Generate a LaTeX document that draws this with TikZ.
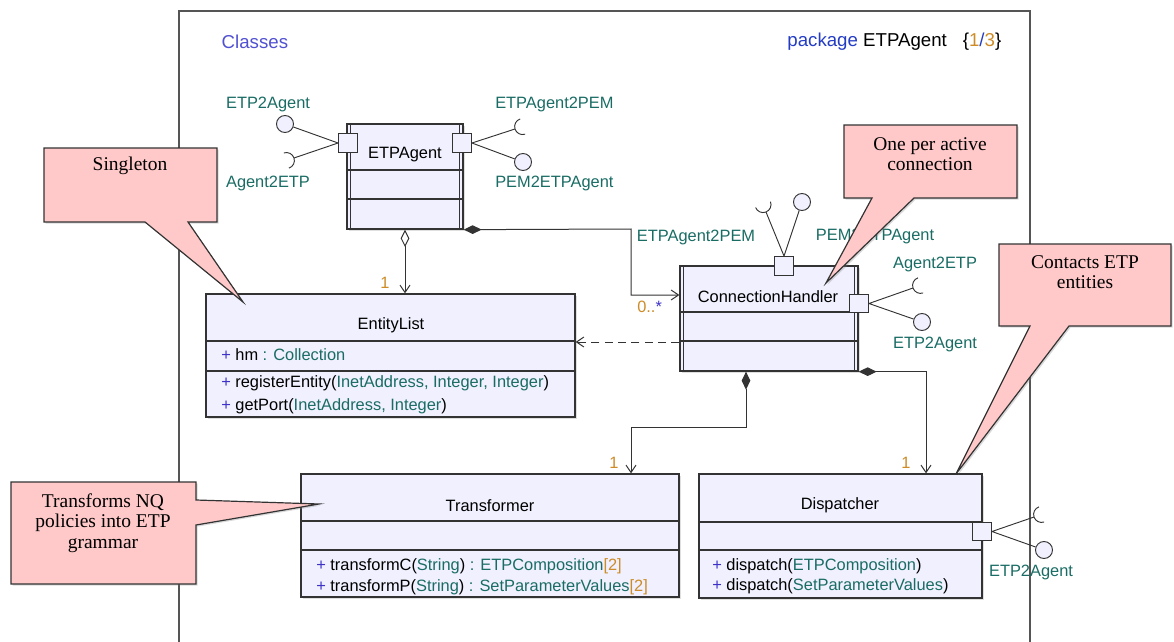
\documentclass[tikz,border=0pt]{standalone}
\usepackage{fontspec}
\setmainfont{Liberation Sans}
\newfontfamily\notefont{Liberation Serif}
\usetikzlibrary{arrows.meta,shadows}

\definecolor{clsfill}{RGB}{240,240,254}
\definecolor{notefill}{RGB}{255,201,201}
\definecolor{linec}{RGB}{51,51,51}
\definecolor{framec}{RGB}{85,85,85}
\definecolor{typec}{RGB}{25,108,100}
\definecolor{visc}{RGB}{60,50,200}
\definecolor{multc}{RGB}{205,140,40}
\definecolor{classesc}{RGB}{80,80,210}
\definecolor{pkgc}{RGB}{35,60,195}

\newcommand\vis{\textcolor{visc}{+}}
\newcommand\ty[1]{\textcolor{typec}{#1}}
\newcommand\mult[1]{\textcolor{multc}{#1}}
% required interface: half circle with apex #1, facing direction #2
\newcommand\socket[2]{\draw[iface] (#1) arc[start angle=#2,end angle=#2+90,radius=6pt]
  (#1) arc[start angle=#2,end angle=#2-90,radius=6pt];}

\tikzset{
  classbox/.style={draw=linec,fill=clsfill,line width=1pt,inner sep=0pt,
    drop shadow={shadow xshift=1.2pt,shadow yshift=-1.2pt,opacity=0.25}},
  cline/.style={draw=linec,line width=1pt},
  portbox/.style={draw=linec,fill=clsfill,line width=0.9pt,minimum size=14pt,inner sep=0pt},
  lolli/.style={circle,draw=linec,fill=clsfill,line width=0.7pt,minimum size=12.75pt,inner sep=0pt},
  iface/.style={draw=linec,line width=0.7pt},
  clsname/.style={font=\fontsize{12.3}{14}\selectfont,inner sep=0pt},
  memb/.style={anchor=west,font=\fontsize{12.3}{14}\selectfont,inner sep=0pt},
  mlabel/.style={text=multc,font=\fontsize{12.3}{14}\selectfont,inner sep=0pt},
  notebox/.style={draw=linec,fill=notefill,line width=0.9pt,
    drop shadow={shadow xshift=1.2pt,shadow yshift=-1.2pt,opacity=0.3}},
  notetext/.style={align=center,font=\notefont\fontsize{14.6}{15.5}\selectfont,inner sep=0pt},
  composition/.style={draw=linec,line width=0.75pt,
    {Diamond[length=13.5pt,width=6.5pt]}-{Straight Barb[length=5.5pt,width=7.5pt]}},
  aggregation/.style={draw=linec,line width=0.75pt,
    {Diamond[fill=white,length=13pt,width=6.5pt]}-{Straight Barb[length=5.5pt,width=7.5pt]}},
  dependency/.style={draw=linec,line width=0.75pt,dash pattern=on 6pt off 4pt,
    -{Straight Barb[length=5.5pt,width=7.5pt]}}
}

\begin{document}
\begin{tikzpicture}[x=0.75pt,y=-0.75pt]
\useasboundingbox (0,0) rectangle (1174,642);

% package frame
\draw[framec,line width=1.5pt] (179,642) -- (179,11) -- (1030,11) -- (1030,642);
\node[anchor=west,text=classesc,font=\fontsize{14}{16}\selectfont] (title) at (217,42) {Classes};
\node[anchor=east,font=\fontsize{14}{16}\selectfont] (pkg) at (1006,42)
  {\textcolor{pkgc}{package} ETPAgent\hspace{12pt}\{\mult{1}\textcolor{pkgc}{/}\mult{3}\}};

% ETPAgent
\node[classbox,minimum width=116*0.75pt,minimum height=105*0.75pt] (etpagent) at (405,176.5) {};
\node[clsname] (etpagent-n) at (405,155) {ETPAgent};
\draw[cline] (etpagent.west |- 0,170) -- (etpagent.east |- 0,170)
  (etpagent.west |- 0,199) -- (etpagent.east |- 0,199)
  ([xshift=3pt]etpagent.north west) -- ([xshift=3pt]etpagent.south west)
  ([xshift=-3pt]etpagent.north east) -- ([xshift=-3pt]etpagent.south east);
\node[portbox] (etpagent-pl) at (348,143) {};
\node[portbox] (etpagent-pr) at (462,143) {};
\node[lolli] (etp2agent-a) at (285,124) {};
\node[lolli] (pem2etpagent-a) at (523,162) {};
\coordinate (agent2etp-a) at (294,158);
\coordinate (etpagent2pem-a) at (515,129);
\draw[iface] (etpagent-pl.west) -- (etp2agent-a) (etpagent-pl.west) -- (agent2etp-a)
  (etpagent-pr.east) -- (etpagent2pem-a) (etpagent-pr.east) -- (pem2etpagent-a);
\socket{agent2etp-a}{18.4}
\socket{etpagent2pem-a}{197.6}

% EntityList
\node[classbox,minimum width=369*0.75pt,minimum height=123*0.75pt] (entitylist) at (390.5,355.5) {};
\node[clsname] (entitylist-n) at (391,325) {EntityList};
\draw[cline] (entitylist.west |- 0,341) -- (entitylist.east |- 0,341)
  (entitylist.west |- 0,371) -- (entitylist.east |- 0,371);
\node[memb] (entitylist-a) at (221,355) {\vis{} hm \ty{: Collection}};
\node[memb] (entitylist-m1) at (221,383) {\vis{} registerEntity(\ty{InetAddress, Integer, Integer})};
\node[memb] (entitylist-m2) at (221,406) {\vis{} getPort(\ty{InetAddress, Integer})};

% ConnectionHandler
\node[classbox,minimum width=178*0.75pt,minimum height=105*0.75pt] (chandler) at (769,318.5) {};
\node[clsname] (chandler-n) at (768,297) {ConnectionHandler};
\draw[cline] (chandler.west |- 0,312) -- (chandler.east |- 0,312)
  (chandler.west |- 0,341) -- (chandler.east |- 0,341)
  ([xshift=3pt]chandler.north west) -- ([xshift=3pt]chandler.south west)
  ([xshift=-3pt]chandler.north east) -- ([xshift=-3pt]chandler.south east);
\node[portbox] (chandler-pt) at (784,266) {};
\node[portbox] (chandler-pr) at (859,303.5) {};
\node[lolli] (pem2etpagent-c) at (802,202) {};
\node[lolli] (etp2agent-c) at (922,322) {};
\coordinate (etpagent2pem-c) at (766,212);
\coordinate (agent2etp-c) at (913,288);
\draw[iface] (chandler-pt.north) -- (etpagent2pem-c) (chandler-pt.north) -- (pem2etpagent-c)
  (chandler-pr.east) -- (agent2etp-c) (chandler-pr.east) -- (etp2agent-c);
\socket{etpagent2pem-c}{291.8}
\socket{agent2etp-c}{199}

% Transformer
\node[classbox,minimum width=378*0.75pt,minimum height=123*0.75pt] (transformer) at (490,535.5) {};
\node[clsname] (transformer-n) at (490,506) {Transformer};
\draw[cline] (transformer.west |- 0,521) -- (transformer.east |- 0,521)
  (transformer.west |- 0,550) -- (transformer.east |- 0,550);
\node[memb] (transformer-m1) at (316,566) {\vis{} transformC(\ty{String}) \ty{: ETPComposition}\mult{[2]}};
\node[memb] (transformer-m2) at (316,587) {\vis{} transformP(\ty{String}) \ty{: SetParameterValues}\mult{[2]}};

% Dispatcher
\node[classbox,minimum width=283*0.75pt,minimum height=124*0.75pt] (dispatcher) at (840.5,536) {};
\node[clsname] (dispatcher-n) at (840,505) {Dispatcher};
\draw[cline] (dispatcher.west |- 0,522) -- (dispatcher.east |- 0,522)
  (dispatcher.west |- 0,550) -- (dispatcher.east |- 0,550);
\node[memb] (dispatcher-m1) at (712,566) {\vis{} dispatch(\ty{ETPComposition})};
\node[memb] (dispatcher-m2) at (712,586) {\vis{} dispatch(\ty{SetParameterValues})};
\node[portbox] (dispatcher-pr) at (982,531.5) {};
\node[lolli] (etp2agent-d) at (1044,550) {};
\coordinate (agent2etp-d) at (1034,517);
\draw[iface] (dispatcher-pr.east) -- (agent2etp-d) (dispatcher-pr.east) -- (etp2agent-d);
\socket{agent2etp-d}{198.8}

% interface names
\begin{scope}[every node/.style={text=typec,font=\fontsize{12.3}{14}\selectfont,inner sep=0pt}]
  \node (l-etp2agent-a) at (268,104) {ETP2Agent};
  \node (l-agent2etp-a) at (268,183) {Agent2ETP};
  \node[anchor=west] (l-etpagent2pem-a) at (495,104) {ETPAgent2PEM};
  \node[anchor=west] (l-pem2etpagent-a) at (495,183) {PEM2ETPAgent};
  \node (l-etpagent2pem-c) at (696,237) {ETPAgent2PEM};
  \node (l-pem2etpagent-c) at (875,236) {PEM2ETPAgent};
  \node (l-agent2etp-c) at (935,264) {Agent2ETP};
  \node (l-etp2agent-c) at (935,344) {ETP2Agent};
  \node (l-etp2agent-d) at (1031,572) {ETP2Agent};
\end{scope}

% associations
\draw[aggregation] (etpagent.south) -- (etpagent.south |- entitylist.north);
\draw[composition] (etpagent.south east) -- (631,229) |- (chandler.west |- 0,295);
\draw[dependency] (chandler.west |- 0,342) -- (entitylist.east |- 0,342);
\draw[composition] (chandler.south -| 746,0) |- (631,427) -- (transformer.north -| 631,0);
\draw[composition] (chandler.south east) -| (dispatcher.north -| 926,0);
\node[mlabel] (m-entitylist) at (385,283) {1};
\node[mlabel,anchor=west] (m-chandler) at (637,307) {0..\textcolor{visc}{*}};
\node[mlabel] (m-transformer) at (614,463) {1};
\node[mlabel] (m-dispatcher) at (906,463) {1};

% notes
\path[notebox] (44,148) -- (217,148) -- (217,222) -- (188,222) -- (243,302) -- (145,222) -- (44,222) -- cycle;
\node[notetext] (n-singleton) at (130,166) {Singleton};
\path[notebox] (844,125) -- (1017,125) -- (1017,198) -- (914,198) -- (826,283) -- (872,198) -- (844,198) -- cycle;
\node[notetext] (n-active) at (930,154) {One per active\\connection};
\path[notebox] (999,244) -- (1171,244) -- (1171,326) -- (1069,326) -- (956,474) -- (1030,326) -- (999,326) -- cycle;
\node[notetext] (n-contacts) at (1085,272) {Contacts ETP\\entities};
\path[notebox] (11,482) -- (196,482) -- (196,500) -- (319,504) -- (196,525) -- (196,584) -- (11,584) -- cycle;
\node[notetext] (n-transforms) at (103,523) {Transforms NQ\\policies into ETP\\grammar};
\end{tikzpicture}
\end{document}
